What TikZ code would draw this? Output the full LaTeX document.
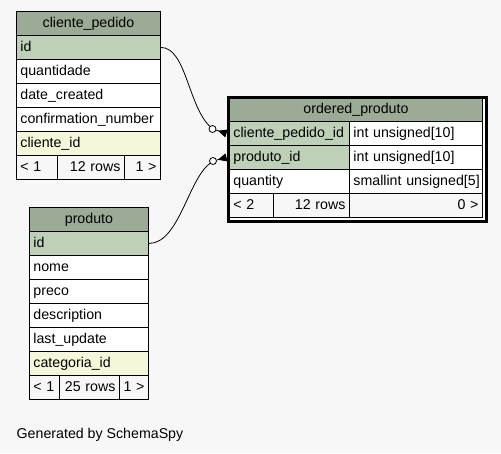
\documentclass[tikz,border=0pt]{standalone}
\usepackage{fontspec}
\setmainfont{Liberation Sans}
\usetikzlibrary{arrows.meta}
\definecolor{bgc}{HTML}{F7F7F7}
\definecolor{hdrc}{HTML}{9BAB96}
\definecolor{pkc}{HTML}{BED1B8}
\definecolor{fkc}{HTML}{F4F7DA}
\hyphenpenalty=10000
\exhyphenpenalty=10000
\newcommand\cellfont{\fontsize{14.2pt}{16pt}\selectfont}
\tikzset{
  cell/.style={draw, line width=0.9pt, rectangle, anchor=north west,
    inner xsep=4pt, inner ysep=0pt, minimum height=24pt,
    text height=10.5pt, text depth=3pt, font=\cellfont},
  cw/.code={\pgfmathsetmacro\twv{#1-8}\edef\twx{\noexpand\tikzset{minimum width=#1pt, text width=\twv pt}}\twx},
  hdr/.style={cell, fill=hdrc, align=center},
  pk/.style={cell, fill=pkc, align=left},
  fk/.style={cell, fill=fkc, align=left},
  plain/.style={cell, fill=white, align=left},
  footl/.style={cell, fill=bgc, align=left},
  footr/.style={cell, fill=bgc, align=right},
  rel/.style={line width=0.8pt},
  odot/.style={circle, draw, fill=white, line width=0.8pt, minimum size=7pt, inner sep=0pt},
  crow/.style={line width=0.8pt, -{Triangle[reversed, length=9pt, width=8pt]}},
  focusframe/.style={draw, line width=3pt, fill=white, rectangle, anchor=north west, inner sep=0pt}
}
\begin{document}
\begin{tikzpicture}[x=1pt,y=-1pt]
\fill[bgc] (0,0) rectangle (501,453);
\useasboundingbox (0,0) rectangle (501,453);

% cliente_pedido
\node[hdr, cw=144] (cp-h) at (16,11) {cliente\_pedido};
\node[pk, cw=144] (cp-id) at (16,35) {id};
\node[plain, cw=144] (cp-qty) at (16,59) {quantidade};
\node[plain, cw=144] (cp-date) at (16,83) {date\_created};
\node[plain, cw=144] (cp-conf) at (16,107) {confirmation\_number};
\node[fk, cw=144] (cp-cli) at (16,131) {cliente\_id};
\node[footl, cw=41] (cp-f1) at (16,155) {< 1};
\node[footr, cw=67] (cp-f2) at (57,155) {12 rows};
\node[footr, cw=36] (cp-f3) at (124,155) {1 >};

% produto
\node[hdr, cw=119] (pr-h) at (29,207) {produto};
\node[pk, cw=119] (pr-id) at (29,231) {id};
\node[plain, cw=119] (pr-nome) at (29,255) {nome};
\node[plain, cw=119] (pr-preco) at (29,279) {preco};
\node[plain, cw=119] (pr-desc) at (29,303) {description};
\node[plain, cw=119] (pr-last) at (29,327) {last\_update};
\node[fk, cw=119] (pr-cat) at (29,351) {categoria\_id};
\node[footl, cw=30] (pr-f1) at (29,375) {< 1};
\node[footr, cw=60] (pr-f2) at (59,375) {25 rows};
\node[footr, cw=29] (pr-f3) at (119,375) {1 >};

% ordered_produto
\node[focusframe, minimum width=258pt, minimum height=124pt] (op-frame) at (226.5,95.5) {};
\node[hdr, cw=253, minimum height=23pt] (op-h) at (229,98) {ordered\_produto};
\node[pk, cw=120] (op-cpid-n) at (229,121) {cliente\_pedido\_id};
\node[plain, cw=133] (op-cpid-t) at (349,121) {int~unsigned[10]};
\node[pk, cw=120] (op-pid-n) at (229,145) {produto\_id};
\node[plain, cw=133] (op-pid-t) at (349,145) {int~unsigned[10]};
\node[plain, cw=120] (op-q-n) at (229,169) {quantity};
\node[plain, cw=133] (op-q-t) at (349,169) {smallint~unsigned[5]};
\node[footl, cw=44] (op-f1) at (229,193) {< 2};
\node[footr, cw=76] (op-f2) at (273,193) {12 rows};
\node[footr, cw=133] (op-f3) at (349,193) {0 >};

% relationships
\node[odot] (o1) at (212.5,129) {};
\node[odot] (o2) at (213,161) {};
\coordinate (f1) at (op-frame.west |- op-cpid-n.center);
\coordinate (f2) at (op-frame.west |- op-pid-n.center);
\draw[rel] (cp-id.east) .. controls +(25,0) and +(-24.5,-24) .. (o1);
\draw[rel] (pr-id.east) .. controls +(30,0) and +(-25,19) .. (o2);
\draw[crow] (o1) -- (f1);
\draw[crow] (o2) -- (f2);

\node[anchor=base west, font=\cellfont, inner sep=0pt] (gen) at (16.5,438) {Generated by SchemaSpy};
\end{tikzpicture}
\end{document}
